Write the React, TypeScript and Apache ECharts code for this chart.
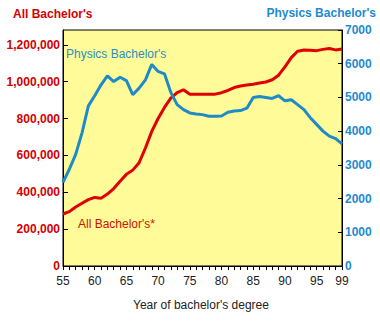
import React, { useEffect, useRef } from "react";
import * as echarts from "echarts";

const years: string[] = [];
for (let y = 1955; y <= 1999; y++) years.push(String(y));

const allBachelors: number[] = [
  282000, 295000, 320000, 340000, 360000, 372000, 368000, 390000, 420000, 460000,
  497000, 520000, 560000, 640000, 730000, 800000, 860000, 910000, 940000, 956000,
  932000, 932000, 932000, 932000, 932000, 940000, 952000, 968000, 976000, 982000,
  986000, 993000, 998000, 1010000, 1035000, 1080000, 1130000, 1165000, 1172000, 1170000,
  1168000, 1175000, 1180000, 1172000, 1177000,
];

const physicsBachelors: number[] = [
  2480, 2870, 3310, 3950, 4750, 5050, 5375, 5640, 5470, 5600,
  5500, 5080, 5275, 5520, 5980, 5770, 5700, 5150, 4785, 4640,
  4540, 4510, 4490, 4440, 4440, 4450, 4560, 4600, 4610, 4680,
  5000, 5030, 5000, 4970, 5050, 4900, 4930, 4785, 4640, 4400,
  4200, 4000, 3850, 3780, 3620,
];

const leftTitle = "All Bachelor's";
const rightTitle = "Physics Bachelor's";
const physicsLabel = "Physics Bachelor's";
const allLabel = "All Bachelor's*";
const xTitle = "Year of bachelor's degree";

const RED = "#D40000";
const BLUE = "#1E8BD0";
const FONT = "Liberation Sans, Arial, sans-serif";

export default function App() {
  const ref = useRef<HTMLDivElement>(null);
  useEffect(() => {
    document.body.style.margin = "0";
    const chart = echarts.init(ref.current!, undefined, { renderer: "svg" });
    chart.setOption({
      animation: false,
      backgroundColor: "#ffffff",
      textStyle: { fontFamily: FONT },
      grid: {
        left: 63,
        right: 38,
        top: 30,
        bottom: 55,
        show: true,
        backgroundColor: "#FFFB99",
        borderColor: "#000",
        borderWidth: 1,
      },
      graphic: [
        {
          type: "text",
          left: 13,
          top: 8,
          style: { text: leftTitle, fill: RED, font: `bold 12px ${FONT}` },
        },
        {
          type: "text",
          right: 4,
          top: 7,
          style: { text: rightTitle, fill: BLUE, font: `bold 12px ${FONT}` },
        },
        {
          type: "text",
          left: 66,
          top: 48,
          style: { text: physicsLabel, fill: "#2A8FC0", font: `12px ${FONT}` },
        },
        {
          type: "text",
          left: 78,
          top: 218,
          style: { text: allLabel, fill: "#CC1100", font: `12px ${FONT}` },
        },
        {
          type: "text",
          left: 133,
          top: 299,
          style: { text: xTitle, fill: "#222", font: `12px ${FONT}` },
        },
      ],
      xAxis: {
        type: "category",
        data: years,
        boundaryGap: false,
        axisLine: { lineStyle: { color: "#000", width: 1 } },
        axisTick: { show: true, interval: 0, length: 4, lineStyle: { color: "#000" } },
        axisLabel: {
          interval: (i: number) => i % 5 === 0 || i === years.length - 1,
          formatter: (v: string) => v.slice(2),
          color: "#222",
          fontSize: 12,
          fontFamily: FONT,
          margin: 9,
        },
        splitLine: { show: false },
      },
      yAxis: [
        {
          type: "value",
          min: 0,
          max: 1280000,
          interval: 200000,
          position: "left",
          axisLine: { show: true, lineStyle: { color: "#000" } },
          axisTick: { show: true, inside: true, length: 5, lineStyle: { color: "#000" } },
          axisLabel: {
            showMaxLabel: false,
            color: RED,
            fontWeight: "bold",
            fontSize: 12,
            fontFamily: FONT,
            margin: 3,
            formatter: (v: number) => v.toLocaleString("en-US"),
          },
          splitLine: { show: false },
        },
        {
          type: "value",
          min: 0,
          max: 7000,
          interval: 1000,
          position: "right",
          axisLine: { show: true, lineStyle: { color: "#000" } },
          axisTick: { show: true, inside: true, length: 4, lineStyle: { color: "#000" } },
          axisLabel: {
            color: BLUE,
            fontWeight: "bold",
            fontSize: 12,
            fontFamily: FONT,
            margin: 3,
            formatter: (v: number) => String(v),
          },
          splitLine: { show: false },
        },
      ],
      series: [
        {
          type: "line",
          data: allBachelors,
          yAxisIndex: 0,
          showSymbol: false,
          lineStyle: { color: "#E00000", width: 3 },
          itemStyle: { color: "#E00000" },
        },
        {
          type: "line",
          data: physicsBachelors,
          yAxisIndex: 1,
          showSymbol: false,
          lineStyle: { color: "#1E8BC8", width: 3 },
          itemStyle: { color: "#1E8BC8" },
        },
      ],
    });
    return () => chart.dispose();
  }, []);
  return <div ref={ref} style={{ width: 380, height: 321 }} />;
}
